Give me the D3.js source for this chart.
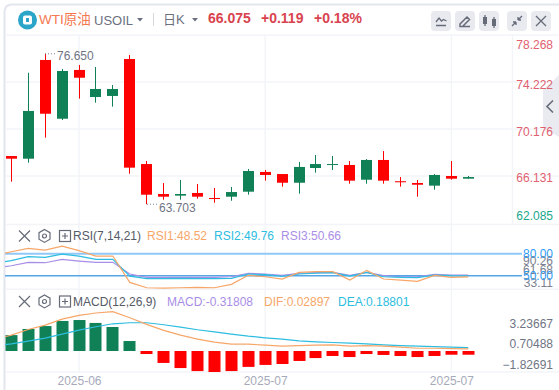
<!DOCTYPE html>
<html>
<head>
<meta charset="utf-8">
<script src="https://cdn.jsdelivr.net/npm/d3@7/dist/d3.min.js"></script>
<style>
  html, body { margin: 0; padding: 0; background: #fff; }
  svg { display: block; }
  text { font-family: "Liberation Sans", "Noto Sans CJK SC", sans-serif; font-size: 12px; }
</style>
</head>
<body>
<svg id="chart" width="559" height="390"></svg>
<script>
// candles, index 0..27
const open  = [67.62,71.73,71.49,75.17,74.59,73.62,73.62,66.85,64.52,64.35,64.58,64.35,64.15,64.75,66.56,66.22,65.55,66.91,67.16,67.16,65.73,67.51,65.73,65.59,65.38,66.22,65.90,66.04];
const close = [67.85,67.62,76.12,71.06,75.26,72.93,73.02,76.20,67.16,64.58,64.44,64.67,64.24,64.35,64.78,66.48,66.30,65.55,66.82,67.08,67.08,65.81,67.51,65.68,65.53,65.30,66.13,65.90];
const high  = [67.85,75.02,76.65,75.34,75.69,75.51,73.96,76.55,67.42,65.53,65.79,65.44,65.10,65.18,66.73,66.65,66.30,67.34,67.94,67.85,67.42,67.59,68.28,66.04,65.79,66.30,67.42,66.13];
const low   = [65.64,67.28,69.43,70.95,72.79,72.44,72.10,66.33,63.703,64.09,64.09,64.18,63.83,64.00,64.52,65.73,65.21,64.61,66.42,66.65,65.47,65.47,65.47,65.21,64.35,64.95,65.81,65.90];

// indicator lines start one bar left of the first candle (clipped)
const rsi1 = [77.3,82.7,87.3,85.0,90.26,84.1,76.8,76.8,40.9,33.6,33.11,33.6,34.1,33.6,38.2,50.5,48.6,45.3,54.5,55.5,55.5,44.1,57.3,45.5,44.1,42.3,50.5,47.7,48.52];
const rsi2 = [66.8,70.5,75.9,75.0,79.5,76.8,72.3,72.3,49.5,45.9,45.9,46.4,45.9,45.9,46.4,52.3,51.4,49.1,52.3,53.6,54.1,49.5,54.5,48.6,47.7,47.3,50.9,50.0,49.76];
const rsi3 = [60.0,63.6,68.2,67.7,72.3,70.0,68.2,68.2,52.3,47.7,47.7,47.7,47.7,47.7,48.6,53.2,52.3,50.5,53.2,54.1,54.5,50.5,54.5,50.0,48.6,48.6,51.8,50.9,50.66];
const dif  = [1.20,1.74,2.44,2.98,3.72,4.18,4.47,4.63,3.89,3.06,2.32,1.74,1.24,0.87,0.62,0.62,0.50,0.37,0.45,0.50,0.54,0.37,0.45,0.37,0.25,0.12,0.12,0.08,0.029];
const dea  = [0.41,0.66,0.99,1.36,1.86,2.36,2.77,3.14,3.27,3.27,3.02,2.73,2.40,2.15,1.86,1.61,1.41,1.24,1.03,0.91,0.83,0.74,0.66,0.54,0.45,0.37,0.33,0.25,0.188];
const hist = [1.37,1.90,2.15,2.59,2.67,2.42,2.07,0.86,-0.26,-1.03,-1.47,-1.73,-1.81,-1.73,-1.37,-1.20,-1.12,-0.86,-0.61,-0.43,-0.52,-0.26,-0.34,-0.43,-0.52,-0.43,-0.32,-0.32];

const priceTicks = [78.268,74.222,70.176,66.131,62.085];
const rsiTicks = [90.26,61.68,33.11];
const rsiLevels = [80,50];
const macdTicks = [3.23667,0.70488,-1.82691];
const dateTicks = [[4,"2025-06"],[15,"2025-07"],[26,"2025-07"]];

const red = "#ff0000", green = "#108156";
const orange = "#f7a668", cyan = "#2dbde0", purple = "#a98ee6";
const gridColor = "#f3f4f8", iconColor = "#666b78";

const svg = d3.select("#chart");

const x = d3.scaleLinear().domain([0,27]).range([11.3,468.3]);
const yPrice = d3.scaleLinear().domain([62.085,78.268]).range([223,35]);
const yRsi = d3.scaleLinear().domain([50,80]).range([275.7,253.7]);
const yMacd = d3.scaleLinear().domain([-1.82691,3.23667]).range([364,323]);
const yHist = d3.scaleLinear().domain([0,1]).range([351,339.4]);
const px = i => Math.round(x(i) - 0.5) + 0.5;

svg.append("clipPath").attr("id","plot").append("rect")
  .attr("x",5).attr("y",35).attr("width",507).attr("height",340);

// frame
svg.append("path")
  .attr("d","M4.5 390V12Q4.5 4.5 12 4.5H559")
  .attr("fill","none").attr("stroke","#e3e6ee").attr("stroke-width",2);

// grid
const grid = svg.append("g").attr("stroke",gridColor).attr("stroke-width",1.4);
grid.selectAll(".h").data([35,82,129,176,224.5,289.3,372]).enter().append("line")
  .attr("x1",5.5).attr("x2",559).attr("y1",d => d).attr("y2",d => d);
grid.selectAll(".v").data(dateTicks).enter().append("line")
  .attr("x1",d => x(d[0])).attr("x2",d => x(d[0])).attr("y1",35).attr("y2",372);
grid.append("line").attr("x1",512.5).attr("x2",512.5).attr("y1",35).attr("y2",224);

// side tab
svg.append("path").attr("d","M543 90L559 75V137L543 128Z").attr("fill","#eaebf0");
svg.append("path").attr("d","M553 100.5L547 106.5L553 112.5")
  .attr("fill","none").attr("stroke",iconColor).attr("stroke-width",1.6);

// candles
const candles = svg.append("g").attr("clip-path","url(#plot)")
  .selectAll("g").data(open).enter().append("g")
  .attr("fill",(d,i) => close[i] >= open[i] ? red : green)
  .attr("stroke",(d,i) => close[i] >= open[i] ? red : green);
candles.append("line")
  .attr("x1",(d,i) => px(i)).attr("x2",(d,i) => px(i))
  .attr("y1",(d,i) => yPrice(high[i])).attr("y2",(d,i) => yPrice(low[i]));
candles.append("rect")
  .attr("stroke","none")
  .attr("x",(d,i) => px(i) - 5.5).attr("width",11)
  .attr("y",(d,i) => yPrice(Math.max(open[i],close[i])))
  .attr("height",(d,i) => Math.max(1,Math.abs(yPrice(open[i]) - yPrice(close[i]))));

// high / low notes
svg.append("line").attr("x1",45).attr("x2",56).attr("y1",yPrice(76.65)).attr("y2",yPrice(76.65))
  .attr("stroke","#7b8190").attr("stroke-dasharray","1 2");
svg.append("text").attr("x",57).attr("y",60).attr("fill","#6f7584").text("76.650");
svg.append("line").attr("x1",147).attr("x2",158).attr("y1",yPrice(63.703)).attr("y2",yPrice(63.703))
  .attr("stroke","#7b8190").attr("stroke-dasharray","1 2");
svg.append("text").attr("x",159).attr("y",212).attr("fill","#6f7584").text("63.703");

// RSI
rsiLevels.forEach((v,i) => {
  svg.append("line").attr("x1",5).attr("x2",522).attr("y1",yRsi(v)).attr("y2",yRsi(v))
    .attr("stroke",i == 0 ? "#90c9f8" : "#56a6e6").attr("stroke-width",i == 0 ? 2 : 1.4);
});
const line = y => d3.line().x((d,i) => x(i - 1)).y(d => y(d));
[[rsi3,purple],[rsi2,cyan],[rsi1,orange]].forEach(s => {
  svg.append("path").datum(s[0]).attr("clip-path","url(#plot)")
    .attr("fill","none").attr("stroke",s[1]).attr("stroke-width",1.2)
    .attr("d",line(yRsi));
});

// MACD
svg.append("g").attr("clip-path","url(#plot)")
  .selectAll("rect").data(hist).enter().append("rect")
  .attr("x",(d,i) => px(i) - 6).attr("width",12)
  .attr("y",d => Math.min(yHist(d),yHist(0)))
  .attr("height",d => Math.abs(yHist(d) - yHist(0)))
  .attr("fill",d => d >= 0 ? green : red);
[[dea,cyan],[dif,orange]].forEach(s => {
  svg.append("path").datum(s[0]).attr("clip-path","url(#plot)")
    .attr("fill","none").attr("stroke",s[1]).attr("stroke-width",1.2)
    .attr("d",line(yMacd));
});

// axes
function rightAxis(scale, ticks, fmt, color, nudge) {
  const g = svg.append("g").attr("transform","translate(553,0)")
    .call(d3.axisRight(scale).tickValues(ticks).tickFormat(fmt).tickSize(0).tickPadding(0));
  g.select(".domain").remove();
  g.selectAll("text")
    .attr("text-anchor","end")
    .attr("fill",color)
    .attr("dy",(d,i) => (4 + (nudge ? nudge[i] : 0)) + "px")
    .style("font-family","'Liberation Sans', sans-serif").style("font-size","12px");
}
rightAxis(yPrice, priceTicks, d3.format(".3f"), d => d == 62.085 ? "#19a78c" : "#e0606f", [9,2,2,2,-8]);
// the reference stacks these labels over each other near the two levels
rightAxis(yRsi, rsiTicks, d3.format(".2f"), "#7b8190", [14,2,-6]);
rightAxis(yRsi, rsiLevels, d3.format(".2f"), "#2f9bf2");
rightAxis(yMacd, macdTicks, d3.format(".5f"), "#6f7584");

const xAxis = svg.append("g").attr("transform","translate(0,376)")
  .call(d3.axisBottom(x).tickValues(dateTicks.map(d => d[0]))
    .tickFormat(d => dateTicks.find(t => t[0] == d)[1]).tickSize(0).tickPadding(0));
xAxis.select(".domain").remove();
xAxis.selectAll("text").attr("fill","#a6aaba").attr("dy","9px")
  .style("font-family","'Liberation Sans', sans-serif").style("font-size","12px");

// header
function label(tx, ty, s, color, size, weight) {
  return svg.append("text").attr("x",tx).attr("y",ty).attr("fill",color)
    .style("font-size",(size || 12) + "px").style("font-weight",weight || "normal").text(s);
}
svg.append("circle").attr("cx",27.5).attr("cy",20).attr("r",9.5).attr("fill","#2ba6c9");
svg.append("rect").attr("x",23).attr("y",15.5).attr("width",9).attr("height",9).attr("rx",2).attr("fill","#fff");
svg.append("rect").attr("x",26).attr("y",18).attr("width",3).attr("height",4).attr("fill","#2ba6c9");
label(39,23.5,"WTI原油","#f5784f",13.5);
label(94,25,"USOIL","#6b7080",13);
svg.append("path").attr("d","M137 18h6l-3 3.5z").attr("fill","#6b7080");
svg.append("line").attr("x1",153.5).attr("x2",153.5).attr("y1",13).attr("y2",26).attr("stroke","#d5d8e0");
label(163,24,"日K","#6b7080",13);
svg.append("path").attr("d","M192 18h6l-3 3.5z").attr("fill","#6b7080");
label(208,23,"66.075","#d9434f",14,"bold");
label(261,23,"+0.119","#d9434f",14,"bold");
label(314,23,"+0.18%","#d9434f",14,"bold");

// toolbar
const buttons = [431,455,479,507,531];
svg.selectAll(".btn").data(buttons).enter().append("rect")
  .attr("x",d => d).attr("y",11).attr("width",20).attr("height",20).attr("rx",4).attr("fill","#e8eaf0");
const glyph = (d, sw) => svg.append("path").attr("d",d).attr("fill","none").attr("stroke",iconColor).attr("stroke-width",sw || 1.3);
glyph("M436 22l3-4 2.500 3 2-1.500 3 1.500M436 25.500h10");
glyph("M460 24l7-7 2.500 2.500-7 7h-2.500zM460 26.500h10",1.5);
glyph("M485 15v11M494 17v11");
svg.append("rect").attr("x",483).attr("y",17).attr("width",4).attr("height",7).attr("fill",iconColor);
svg.append("rect").attr("x",492).attr("y",19).attr("width",4).attr("height",7).attr("fill",iconColor);
glyph("M512 26l4-4M516 22h-3M516 22v3M522 16l-4 4M518 20h3M518 20v-3");
glyph("M536 16l10 10M546 16l-10 10");

// pane headers
function paneHead(ty) {
  const g = svg.append("g").attr("transform","translate(0," + ty + ")")
    .attr("fill","none").attr("stroke",iconColor).attr("stroke-width",1.2);
  g.append("path").attr("d","M19 -5.500l11 11M30 -5.500l-11 11");
  g.append("path").attr("d","M44.500 -6.500l5.500 3.200v6.500l-5.500 3.200-5.500-3.200v-6.500z");
  g.append("circle").attr("cx",44.500).attr("cy",0).attr("r",2);
  g.append("rect").attr("x",59.500).attr("y",-5.500).attr("width",11).attr("height",11);
  g.append("path").attr("d","M62 0h6M65 -3v6");
}
paneHead(236);
paneHead(301.5);
label(73,240,"RSI(7,14,21)","#555a67");
label(147,240,"RSI1:48.52",orange);
label(214,240,"RSI2:49.76",cyan);
label(281,240,"RSI3:50.66",purple);
label(73,306,"MACD(12,26,9)","#555a67");
label(167,306,"MACD:-0.31808",purple);
label(264,306,"DIF:0.02897",orange);
label(338,306,"DEA:0.18801",cyan);
</script>
</body>
</html>
